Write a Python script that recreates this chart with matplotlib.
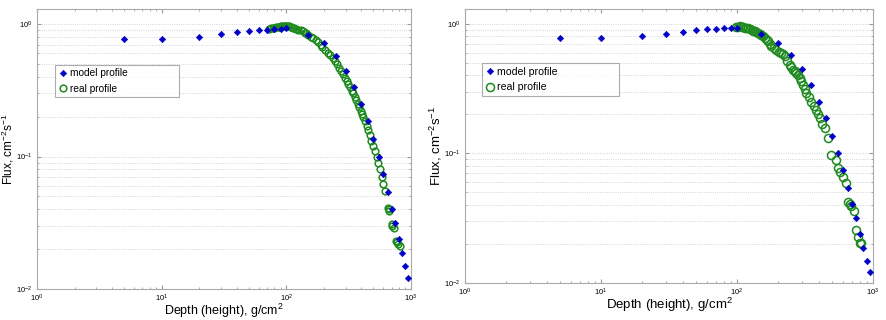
import matplotlib
matplotlib.use("Agg")
import matplotlib.pyplot as plt
from matplotlib.ticker import LogLocator, NullFormatter

plt.rcParams['font.family'] = ['Liberation Sans', 'DejaVu Sans']
plt.rcParams['mathtext.fontset'] = 'custom'
plt.rcParams['mathtext.rm'] = 'Liberation Sans'
plt.rcParams['mathtext.it'] = 'Liberation Sans:italic'

# model profile (same in both panels)
model_depth = [5, 10, 20, 30, 40, 50, 60, 70, 80, 90, 100, 150, 200, 250, 300, 350,
               400, 450, 500, 550, 600, 650, 700, 750, 800, 850, 900, 950]
model_flux = [0.77, 0.77, 0.80, 0.835, 0.865, 0.89, 0.905, 0.91, 0.92, 0.925, 0.93, 0.83,
              0.715, 0.573, 0.444, 0.337, 0.25, 0.187, 0.136, 0.10, 0.074, 0.054,
              0.0405, 0.0316, 0.0238, 0.0187, 0.0148, 0.0122]

# real profile, left panel
real_depth_a = [72, 75, 78, 80, 83, 85, 88, 90, 93, 95, 98, 100, 103, 105, 108, 110,
                113, 116, 120, 125, 130, 135, 140, 145, 150, 158, 165, 172, 180, 188,
                195, 205, 215, 225, 235, 245, 255, 265, 275, 285, 295, 305, 315, 325,
                335, 345, 355, 365, 375, 385, 395, 405, 415, 425, 440, 450, 465, 480,
                495, 510, 530, 545, 565, 585, 600, 615, 650, 660, 670, 700, 710, 725,
                760, 775, 790, 810]
real_flux_a = [0.92, 0.93, 0.94, 0.94, 0.95, 0.95, 0.955, 0.96, 0.96, 0.965, 0.965, 0.97,
               0.965, 0.96, 0.955, 0.95, 0.94, 0.93, 0.92, 0.91, 0.895, 0.88, 0.86,
               0.85, 0.83, 0.80, 0.78, 0.76, 0.73, 0.70, 0.67, 0.64, 0.61, 0.585, 0.555,
               0.525, 0.50, 0.47, 0.445, 0.42, 0.395, 0.375, 0.35, 0.335, 0.315, 0.30,
               0.28, 0.265, 0.25, 0.235, 0.22, 0.21, 0.20, 0.185, 0.17, 0.16, 0.145,
               0.13, 0.12, 0.11, 0.10, 0.09, 0.08, 0.07, 0.062, 0.055, 0.041, 0.040,
               0.039, 0.031, 0.030, 0.029, 0.023, 0.0225, 0.022, 0.021]

# real profile, right panel
real_depth_b = [99, 102, 105, 108, 111, 114, 117, 121, 124, 128, 132, 135, 139, 143, 147,
                151, 155, 160, 165, 169, 174, 179, 187, 195, 203, 212, 218, 224, 234,
                244, 251, 258, 265, 273, 281, 289, 297, 305, 314, 323, 337, 352, 367,
                383, 394, 405, 423, 441, 467, 494, 532, 553, 575, 602, 637, 655, 672,
                693, 721, 746, 776, 800, 821]
real_flux_b = [0.94, 0.95, 0.953, 0.95, 0.94, 0.935, 0.926, 0.92, 0.91, 0.895, 0.88,
               0.873, 0.86, 0.847, 0.835, 0.822, 0.80, 0.775, 0.75, 0.73, 0.70, 0.668,
               0.65, 0.63, 0.61, 0.594, 0.58, 0.56, 0.52, 0.48, 0.46, 0.441, 0.43,
               0.416, 0.40, 0.381, 0.36, 0.338, 0.315, 0.291, 0.27, 0.251, 0.233, 0.217,
               0.20, 0.187, 0.17, 0.156, 0.131, 0.0975, 0.089, 0.077, 0.072, 0.066,
               0.059, 0.0425, 0.041, 0.039, 0.036, 0.0258, 0.0227, 0.0205, 0.0202]

BLUE = '#0000c8'
GREEN = '#1f8a1f'

fig = plt.figure(figsize=(8.86, 3.2), dpi=100)
ax1 = fig.add_axes([37 / 886, 1 - 289 / 320, 374 / 886, 280 / 320])
ax2 = fig.add_axes([465 / 886, 1 - 283 / 320, 408 / 886, 274 / 320])

# axes, real data, circle size, xlabel size, ylabel size, legend font, legend box (px), ylabel x (px)
panels = [(ax1, real_depth_a, real_flux_a, 4.8, 9, 8.5, 7.3, (55, 64, 124, 34), 16),
          (ax2, real_depth_b, real_flux_b, 5.8, 9.5, 9.5, 7.6, (482, 63, 137, 33), 444)]

for ax, rd, rf, msize, lsize, ysize, lgsize, leg, ylx in panels:
    ax.loglog(model_depth, model_flux, 'D', color=BLUE, markersize=3.3,
              markeredgewidth=0.4, label='model profile', zorder=3)
    ax.loglog(rd, rf, 'o', mfc='none', mec=GREEN, markersize=msize,
              markeredgewidth=1.1, label='real profile', zorder=2)
    ax.set_xlim(1, 1000)
    ax.set_ylim(0.01, 1.3)
    ax.yaxis.set_minor_locator(LogLocator(base=10, subs=range(2, 10)))
    ax.yaxis.set_minor_formatter(NullFormatter())
    ax.grid(True, axis='y', which='both', color='#c8c8c8', linestyle=':', linewidth=0.6)
    ax.tick_params(which='both', direction='in', top=True, right=True,
                   labelsize=5.5, colors='#999999', labelcolor='black')
    ax.tick_params(axis='x', pad=3)
    ax.tick_params(axis='y', pad=3)
    ax.tick_params(which='major', length=3)
    ax.tick_params(which='minor', length=1.5)
    for s in ax.spines.values():
        s.set_color('#aaaaaa')
        s.set_linewidth(0.8)
    ax.set_xlabel('Depth (height), g/cm$^2$', fontsize=lsize, labelpad=-2)
    ax.set_ylabel('Flux, cm$^{-2}$s$^{-1}$', fontsize=ysize)
    x0 = ax.get_position().x0 * 886
    w = ax.get_position().width * 886
    ax.yaxis.set_label_coords((ylx - x0) / w, 0.5)
    lx, ly, lw, lh = leg
    bb = (lx / 886, 1 - (ly + lh) / 320, lw / 886, lh / 320)
    lg = ax.legend(loc='center left', bbox_to_anchor=bb, bbox_transform=fig.transFigure,
                   mode='expand', fontsize=lgsize, frameon=True, fancybox=False,
                   handletextpad=0.3, handlelength=0.8, borderpad=0.35,
                   labelspacing=0.55, borderaxespad=0)
    lg.get_frame().set_edgecolor('#999999')
    lg.get_frame().set_linewidth(0.8)

fig.savefig('out.png', dpi=100)
